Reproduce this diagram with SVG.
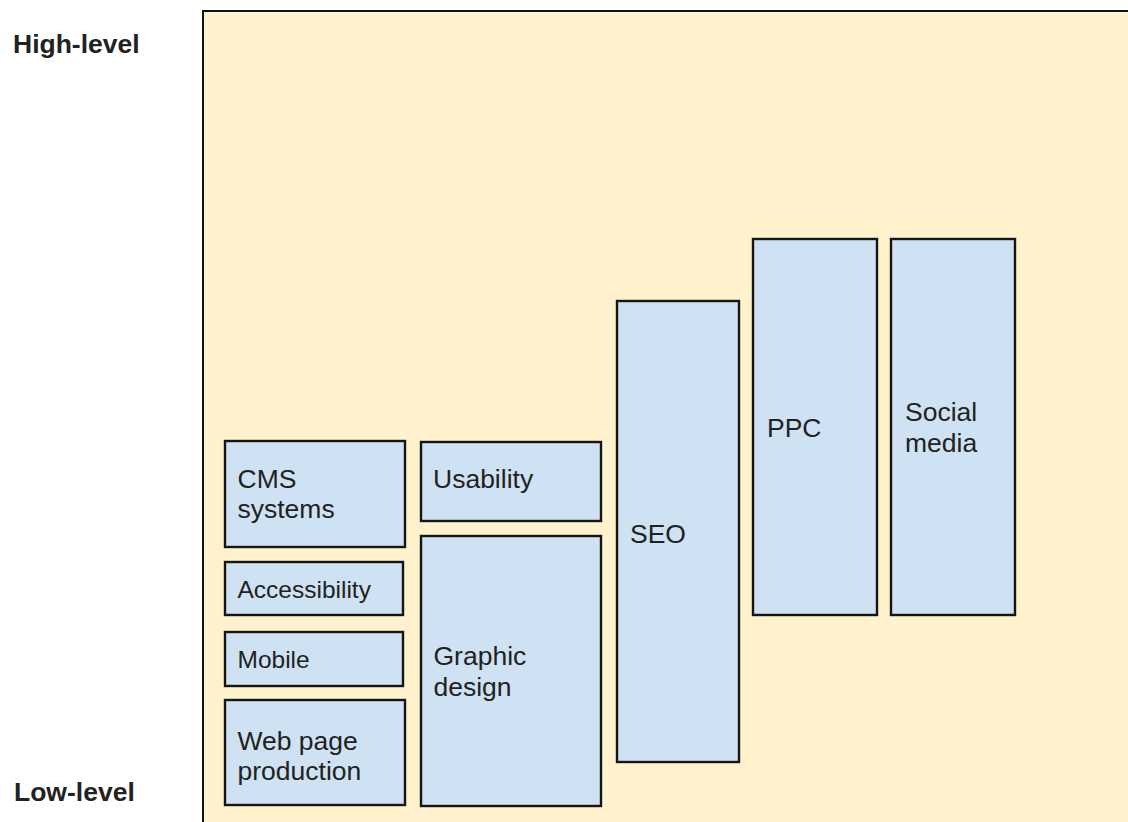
<svg xmlns="http://www.w3.org/2000/svg" width="1128" height="822" viewBox="0 0 1128 822">
  <style>
    .bg { fill: #fff2cc; stroke: #111; stroke-width: 2; }
    .box { fill: #cfe2f3; stroke: #151515; stroke-width: 2.4; }
    .t { font-family: "Liberation Sans", Arial, sans-serif; font-size: 26.5px; fill: #222; }
    .ts { font-family: "Liberation Sans", Arial, sans-serif; font-size: 24.5px; fill: #222; }
    .lvl { font-family: "Liberation Sans", Arial, sans-serif; font-size: 26.5px; font-weight: bold; fill: #222; }
  </style>
  <rect width="1128" height="822" fill="#ffffff"/>
  <g id="axis-labels">
    <text class="lvl" x="13" y="53">High-level</text>
    <text class="lvl" x="14" y="801">Low-level</text>
  </g>
  <g id="area">
    <rect class="bg" x="203" y="11" width="940" height="830"/>
  </g>
  <g id="cms">
    <rect class="box" x="225" y="441" width="180" height="106"/>
    <text class="t" x="237.5" y="488">CMS</text>
    <text class="t" x="237.5" y="518">systems</text>
  </g>
  <g id="usability">
    <rect class="box" x="421" y="442" width="180" height="79"/>
    <text class="t" x="433" y="488">Usability</text>
  </g>
  <g id="accessibility">
    <rect class="box" x="225" y="562" width="178" height="53"/>
    <text class="ts" x="237.5" y="598">Accessibility</text>
  </g>
  <g id="graphic-design">
    <rect class="box" x="421" y="536" width="180" height="270"/>
    <text class="t" x="433.5" y="665">Graphic</text>
    <text class="t" x="433.5" y="696">design</text>
  </g>
  <g id="mobile">
    <rect class="box" x="225" y="632" width="178" height="54"/>
    <text class="ts" x="237.5" y="668">Mobile</text>
  </g>
  <g id="web-page-production">
    <rect class="box" x="225" y="700" width="180" height="105"/>
    <text class="t" x="237.5" y="750">Web page</text>
    <text class="t" x="237.5" y="780">production</text>
  </g>
  <g id="seo">
    <rect class="box" x="617" y="301" width="122" height="461"/>
    <text class="t" x="630" y="543">SEO</text>
  </g>
  <g id="ppc">
    <rect class="box" x="753" y="239" width="124" height="376"/>
    <text class="t" x="767" y="437">PPC</text>
  </g>
  <g id="social-media">
    <rect class="box" x="891" y="239" width="124" height="376"/>
    <text class="t" x="905" y="421">Social</text>
    <text class="t" x="905" y="452">media</text>
  </g>
  <g id="connectors"/>
</svg>
